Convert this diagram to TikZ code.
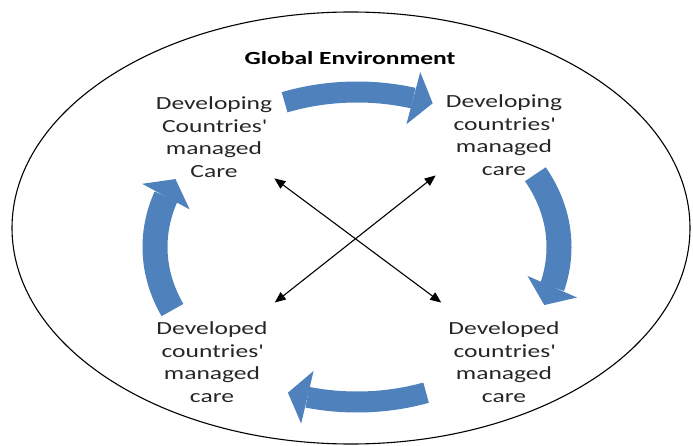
\documentclass[tikz,border=0pt]{standalone}
\usepackage{fontspec}
\newfontfamily\carlito{Carlito}[FakeStretch=1.38]
\usepackage{tikz}
\usetikzlibrary{arrows.meta}
\usetikzlibrary{bending}
\usetikzlibrary{calc}

\definecolor{cycleblue}{RGB}{79,129,189}

\tikzset{
  lbl/.style={align=center, text=black!85, font=\carlito\fontsize{18.5}{22.5}\selectfont},
  cyc/.style={draw=cycleblue, line width=21pt, -{Triangle[width=54pt,length=20pt,line width=0pt,flex]}},
  cross/.style={line width=1.1pt, {Triangle[length=11pt,width=9pt]}-{Triangle[length=11pt,width=9pt]}}
}

\begin{document}
\begin{tikzpicture}[x=1pt,y=1pt]
  \useasboundingbox (0,0) rectangle (693,445);

  \draw[line width=1.1pt] (351,217) ellipse [x radius=339, y radius=216];

  \node[lbl, text=black, anchor=base] (title) at (350,380) {\bfseries Global Environment};

  \node[lbl, inner xsep=2pt, inner ysep=1pt] (dgC) at (214,308) {Developing\\Countries\textquotesingle\\managed\\Care};
  \node[lbl, inner xsep=10pt, inner ysep=0pt] (dgc) at (504,310) {Developing\\countries\textquotesingle\\managed\\care};
  \node[lbl, inner xsep=7pt, inner ysep=19pt] (ddl) at (212,83) {Developed\\countries\textquotesingle\\managed\\care};
  \node[lbl, inner xsep=7pt, inner ysep=19pt] (ddr) at (504,83) {Developed\\countries\textquotesingle\\managed\\care};

  \draw[cross] (dgC.south east) -- (ddr.north west);
  \draw[cross] (dgc.south west) -- (ddl.north east);

  % cycle of blue arrows
  \coordinate (cc) at (357,198);
  \draw[cyc] ($(cc)+(111:202 and 155)$) arc[start angle=111, end angle=68, x radius=202, y radius=155];
  \draw[cyc, line width=25pt] ($(cc)+(28:202 and 155)$) arc[start angle=28, end angle=-22, x radius=202, y radius=155];
  \draw[cyc] ($(cc)+(-70:202 and 155)$) arc[start angle=-70, end angle=-110, x radius=202, y radius=155];
  \draw[cyc, line width=25pt] ($(cc)+(204:202 and 155)$) arc[start angle=204, end angle=154, x radius=202, y radius=155];
\end{tikzpicture}
\end{document}
